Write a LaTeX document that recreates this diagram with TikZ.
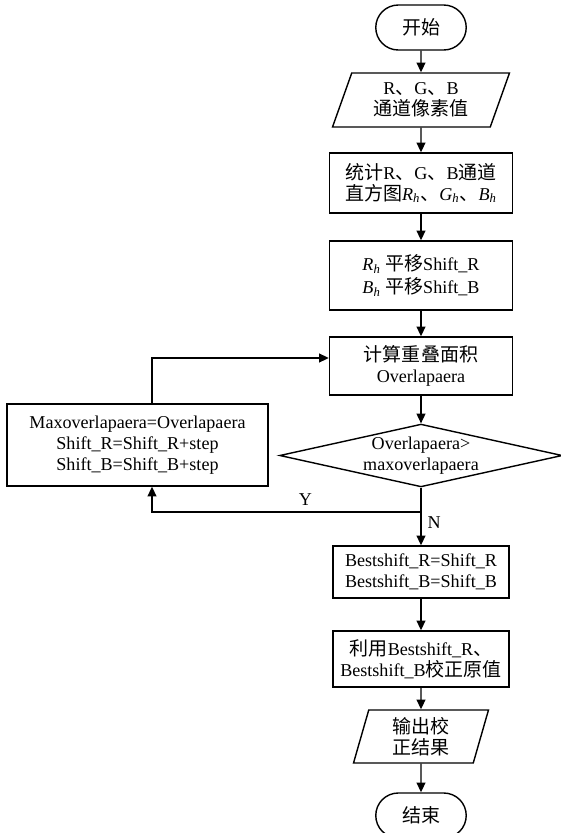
\documentclass[tikz,border=0pt]{standalone}
\usepackage{fontspec}
\setmainfont{Liberation Serif}
\newfontfamily\cjk[Scale=1.05]{Noto Sans CJK SC}
\usetikzlibrary{shapes.geometric,shapes.misc,arrows.meta}
\newcommand{\zh}[1]{{\cjk #1}}
\newcommand{\chan}[2]{{\itshape #1}\textsubscript{\itshape #2}}
\tikzset{
  base/.style={draw, line width=0.8pt, align=center, inner sep=1pt},
  proc/.style={base, rectangle, minimum width=3.66cm},
  term/.style={base, rounded rectangle, minimum width=1.88cm, minimum height=0.9cm},
  io/.style={base, trapezium, trapezium left angle=63, trapezium right angle=117, trapezium stretches body},
  decide/.style={base, diamond, aspect=4.5, inner sep=0pt, minimum width=5.6cm, minimum height=1.22cm},
  flow/.style={line width=0.8pt, -{Triangle[length=5.5pt,width=5pt]}}
}
\begin{document}
\begin{tikzpicture}[x=0.02cm, y=-0.02cm, font=\fontsize{10.3}{11.8}\selectfont]
  \useasboundingbox (0,0) rectangle (561,833);
  \node[term] (start) at (421,27.5) {\zh{开始}};
  \node[io, minimum width=3.54cm, minimum height=1.08cm] (pix) at (421,100) {R\zh{、}G\zh{、}B\\\zh{通道像素值}};
  \node[proc, minimum height=1.2cm] (hist) at (421,183) {\zh{统计}R\zh{、}G\zh{、}B\zh{通道}\\\zh{直方图}\chan{R}{h}\zh{、}\chan{G}{h}\zh{、}\chan{B}{h}};
  \node[proc, minimum height=1.38cm] (shift) at (421,275.5) {\chan{R}{h} \zh{平移}Shift\_R\\[1pt]\chan{B}{h} \zh{平移}Shift\_B};
  \node[proc, minimum height=1.16cm] (area) at (421,366) {\zh{计算重叠面积}\\Overlapaera};
  \node[decide] (cmp) at (421,455.5) {Overlapaera>\\maxoverlapaera};
  \node[proc, minimum width=5.22cm, minimum height=1.64cm] (upd) at (137.5,445) {Maxoverlapaera=Overlapaera\\Shift\_R=Shift\_R+step\\Shift\_B=Shift\_B+step};
  \node[proc, minimum width=3.52cm, minimum height=1.04cm] (best) at (421,572) {Bestshift\_R=Shift\_R\\Bestshift\_B=Shift\_B};
  \node[proc, minimum width=3.52cm, minimum height=1.12cm] (fix) at (421,659) {\zh{利用}Bestshift\_R\zh{、}\\Bestshift\_B\zh{校正原值}};
  \node[io, trapezium left angle=70, trapezium right angle=110, minimum width=2.7cm, minimum height=1.06cm] (out) at (421,736.5) {\zh{输出校}\\\zh{正结果}};
  \node[term] (stop) at (421,815.5) {\zh{结束}};
  \coordinate (yjoin) at (421,512);
  \coordinate (loopx) at (152,0);
  \draw[flow] (start) -- (pix);
  \draw[flow] (pix) -- (hist);
  \draw[flow] (hist) -- (shift);
  \draw[flow] (shift) -- (area);
  \draw[flow] (area) -- (cmp);
  \draw[flow] (cmp) -- node[right, pos=0.6] {N} (best);
  \draw[flow] (yjoin) -| node[above, pos=0.215] {Y} (upd.south -| loopx);
  \draw[flow] (upd.north -| loopx) |- ([yshift=0.16cm]area.west);
  \draw[flow] (best) -- (fix);
  \draw[flow] (fix) -- (out);
  \draw[flow] (out) -- (stop);
\end{tikzpicture}
\end{document}
